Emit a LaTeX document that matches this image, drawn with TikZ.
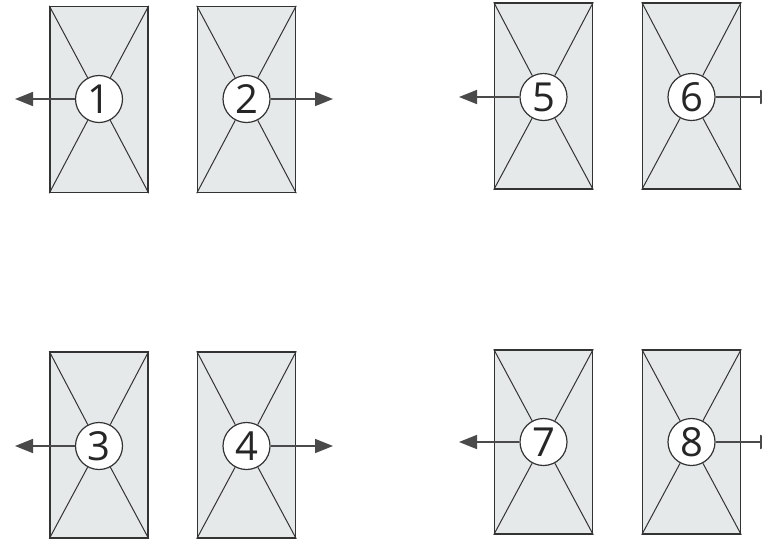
\documentclass[tikz,border=0pt]{standalone}
\usepackage{fontspec}
\setmainfont{Open Sans}
\usetikzlibrary{arrows.meta}
\definecolor{panefill}{HTML}{E6E9EA}
\definecolor{lineclr}{HTML}{333333}
\definecolor{arrowclr}{HTML}{4A4A4A}
\tikzset{
  pane/.style={draw=lineclr, line width=1.5pt, fill=panefill, minimum width=98pt, minimum height=186pt, inner sep=0pt},
  hub/.style={draw=lineclr, line width=1.2pt, fill=white, circle, minimum size=47pt, inner sep=0pt, font=\fontsize{40}{40}\selectfont, text=black!85},
  diag/.style={draw=lineclr, line width=1pt},
  pull/.style={draw=arrowclr, line width=1.6pt, -{Triangle[length=18pt,width=14pt]}}
}
\begin{document}
\begin{tikzpicture}[x=1pt,y=-1pt]
\useasboundingbox (0,0) rectangle (762,539);
% panes
\node[pane] (r1) at (99,99.5) {};
\node[pane] (r2) at (246.5,99.5) {};
\node[pane] (r3) at (99,445) {};
\node[pane] (r4) at (246.5,445) {};
\node[pane] (r5) at (543.5,96) {};
\node[pane] (r6) at (691.5,96) {};
\node[pane, minimum height=184pt] (r7) at (543.5,442) {};
\node[pane, minimum height=184pt] (r8) at (691.5,442) {};
% hubs
\node[hub] (c1) at (99,99) {1};
\node[hub] (c2) at (246.5,99) {2};
\node[hub] (c3) at (99,446) {3};
\node[hub] (c4) at (246.5,446) {4};
\node[hub] (c5) at (543.5,97) {5};
\node[hub] (c6) at (691.5,97) {6};
\node[hub] (c7) at (543.5,442) {7};
\node[hub] (c8) at (691.5,442) {8};
% diagonals
\foreach \i in {1,...,8}{
  \draw[diag] (r\i.north west) -- (c\i);
  \draw[diag] (r\i.north east) -- (c\i);
  \draw[diag] (r\i.south west) -- (c\i);
  \draw[diag] (r\i.south east) -- (c\i);
}
% arrow ends
\coordinate (e1) at (15,99);
\coordinate (e2) at (333,99);
\coordinate (e3) at (15,446);
\coordinate (e4) at (333,446);
\coordinate (e5) at (459,97);
\coordinate (e6) at (778,97);
\coordinate (e7) at (459,442);
\coordinate (e8) at (778,442);
\foreach \i in {1,...,8}{
  \draw[pull] (c\i) -- (e\i);
}
\end{tikzpicture}
\end{document}
